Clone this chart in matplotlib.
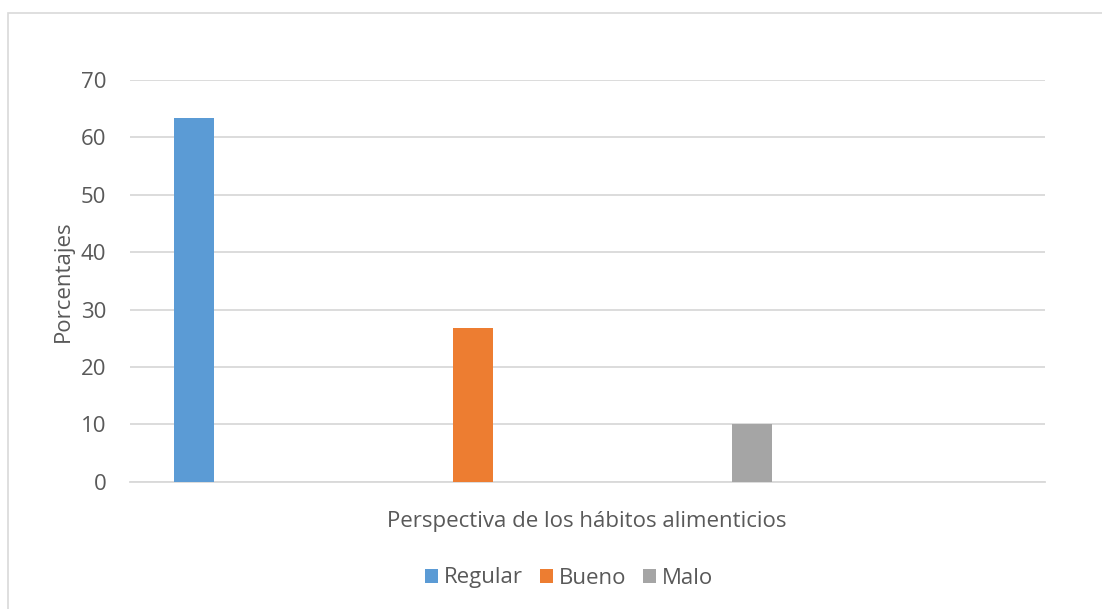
import matplotlib
matplotlib.use("Agg")
import matplotlib.pyplot as plt
from matplotlib.patches import Rectangle, Patch

series = ["Regular", "Bueno", "Malo"]
values = [63.3, 26.7, 10.0]
colors = ["#5B9BD5", "#ED7D31", "#A5A5A5"]
yticks = [0, 10, 20, 30, 40, 50, 60, 70]
xlabel = "Perspectiva de los hábitos alimenticios"
ylabel = "Porcentajes"

plt.rcParams['font.family'] = ['Open Sans', 'DejaVu Sans']
txt = "#595959"
fs = 16

fig = plt.figure(figsize=(11.02, 6.09), dpi=100)
W, H = 1102, 609
# outer chart border
fig.patches.append(Rectangle((8 / W, -0.5), 2, 1.5 - 13 / H, transform=fig.transFigure,
                             fill=False, edgecolor="#D9D9D9", linewidth=1.2))

ax = fig.add_axes([130 / W, 1 - 481.7 / H, (1045 - 130) / W, (481.7 - 80) / H])
positions = [0, 1, 2]
bar_w = 40 / 279
for p, v, c, s in zip(positions, values, colors, series):
    ax.bar(p, v, width=bar_w, color=c, label=s, zorder=3)

ax.set_xlim(-(194 - 130) / 279, (1045 - 194) / 279)
ax.set_ylim(0, 70)
ax.set_yticks(yticks)
ax.set_xticks([])
ax.grid(axis="y", color="#D9D9D9", linewidth=1.3, zorder=0)
for sp in ["top", "right", "left"]:
    ax.spines[sp].set_visible(False)
ax.spines["bottom"].set_color("#D9D9D9")
ax.spines["bottom"].set_linewidth(1.3)
ax.tick_params(axis="y", length=0, pad=17, labelsize=fs, labelcolor=txt)
ax.set_ylabel(ylabel, fontsize=fs, color=txt, labelpad=5)
fig.text(587 / W, 1 - 522 / H, xlabel, ha="center", va="center", fontsize=fs, color=txt)

handles = [Patch(facecolor=c, label=s) for c, s in zip(colors, series)]
fig.legend(handles=handles, loc="center", bbox_to_anchor=(569 / W, 1 - 578 / H), ncol=3,
           frameon=False, fontsize=fs, labelcolor=txt, handlelength=0.6, handleheight=0.6,
           handletextpad=0.25, columnspacing=0.75)

fig.savefig("out.png", dpi=100)
